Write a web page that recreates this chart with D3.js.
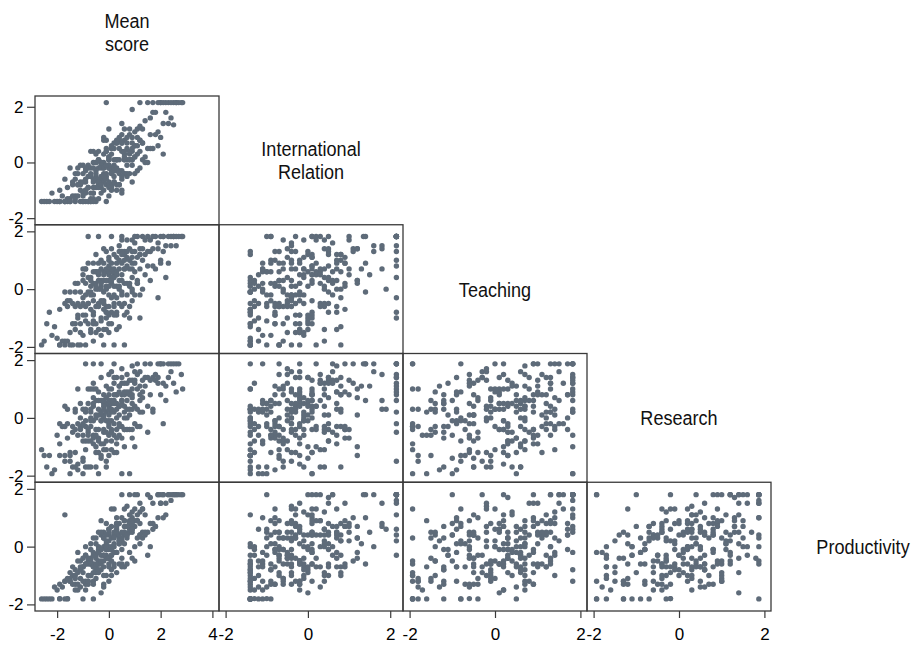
<!DOCTYPE html>
<html>
<head>
<meta charset="utf-8">
<script src="https://cdn.jsdelivr.net/npm/d3@7"></script>
<style>
  body { margin: 0; background: #fff; }
  text { font-family: "Liberation Sans", Arial, Helvetica, sans-serif; }
</style>
</head>
<body>
<svg id="chart" width="917" height="645"></svg>
<script>
// Variable names, diagonal labels and axis ticks
const variables = ["Mean score", "International Relation", "Teaching", "Research", "Productivity"];
const labelLines = [["Mean", "score"], ["International", "Relation"], ["Teaching"], ["Research"], ["Productivity"]];
const tickValues = [[-2, 0, 2, 4], [-2, 0, 2], [-2, 0, 2], [-2, 0, 2], [-2, 0, 2]];

// Standardised scores, one entry per institution (same order in every array)
const meanScore = [
  -0.5, 0.3, 1.2, -1.3, 0.0, -0.9, 0.7, 2.1, -0.2, -1.7,
  0.9, -0.7, 0.1, -1.1, 1.6, -0.3, 0.5, -2.2, 0.4, -0.1,
  1.0, -1.5, 0.2, -0.6, 2.5, 0.6, -0.8, 1.4, -0.4, 0.0,
  -1.9, 0.8, -0.2, 0.3, -1.0, 1.9, -0.5, 0.5, -1.2, 0.1,
  1.1, -0.9, 0.4, -0.3, 2.8, -0.1, 0.7, -1.4, 0.2, -0.6,
  1.3, -0.4, 0.0, -2.6, 0.9, -0.7, 0.6, -0.2, 1.7, -1.0,
  0.3, -0.5, 0.8, -1.6, 0.1, 1.2, -0.3, 0.4, -0.8, 2.3,
  -0.1, 0.5, -1.2, 0.0, 1.0, -0.6, 0.2, -2.0, 0.7, -0.4,
  1.5, -0.9, 0.3, -0.2, 0.9, -1.3, 0.1, -0.7, 0.6, 2.0,
  -0.5, 0.4, -1.1, 1.1, -0.1, 0.0, -1.8, 0.8, -0.3, 0.5,
  -0.8, 1.4, 0.2, -0.6, 2.6, -0.4, 0.0, -1.5, 0.7, -0.2,
  1.2, -1.0, 0.3, -0.5, 0.9, -2.4, 0.1, -0.7, 1.8, -0.1,
  0.6, -1.3, 0.4, -0.3, 1.0, -0.9, 0.0, 2.2, -0.6, 0.2,
  -1.7, 0.8, -0.4, 0.5, -1.1, 1.3, -0.2, 0.1, -0.8, 2.7,
  0.3, -0.5, 1.6, -1.4, 0.0, 0.6, -0.7, 1.1, -0.1, -2.1,
  0.4, -0.3, 0.9, -1.0, 0.1, 1.9, -0.6, 0.2, -1.2, 0.7,
  -0.2, 1.5, -0.9, 0.0, 0.5, -1.6, 1.2, -0.4, 0.3, -0.7,
  2.4, -0.1, 0.8, -1.3, 0.1, -0.5, 1.0, -0.3, 0.6, -1.9,
  0.2, -0.8, 1.3, -0.2, 0.4, -1.1, 0.0, 2.85, -0.6, 0.9,
  -0.4, 0.7, -1.5, 0.3, -0.9, 1.7, -0.1, 0.5, -0.7, -2.5,
  1.1, -0.3, 0.2, -1.0, 0.6, -0.5, 1.4, 0.0, -1.2, 0.4,
  -0.6, 0.8, -0.2, 2.0, -0.8, 0.1, -1.4, 0.5, 1.2, -0.4,
  0.3, -1.7, 0.9, -0.1, 1.6, -0.9, 0.0, 0.6, -1.3, 2.3,
  -0.5, 0.4, -0.2, 1.0, -1.1, 0.2, -0.7, 0.7, -2.3, 0.1,
  -0.3, 1.8, -1.0, 0.5, -0.6, 0.9, -0.1, 1.3, -1.6, 0.3,
  2.0, 1.7, 2.2, 1.5, 2.4, 1.9, -0.1, 2.6, 1.2, 2.1,
  0.9, 2.5, 2.1, -1.2, -0.4, 0.2, -0.8, -1.0, 0.6, -0.3,
  1.0, -1.5, 0.1, -0.6, 0.8, -1.9, 1.1, -0.2, 0.5, -0.9, -1.7
];
const internationalRelation = [
  0.0, -0.8, 0.8, -1.4, 1.2, -0.6, -0.5, 1.4, -1.0, -0.6,
  0.1, -1.4, 0.5, -0.7, 1.6, 0.0, -1.1, -1.1, 0.8, -0.8,
  -0.4, -1.3, -0.1, 0.4, 2.15, 1.2, -1.4, 0.0, 0.1, -0.7,
  -1.4, 1.2, 0.0, -0.3, -1.4, 1.1, -1.4, 0.4, -0.2, -0.4,
  1.2, -1.0, -0.8, 0.0, 2.15, 0.5, 0.1, -0.7, -0.3, -0.9,
  0.1, -0.8, 0.2, -1.4, 0.7, -0.2, -0.4, -0.2, 0.5, -0.4,
  0.1, -0.5, 0.3, -0.9, -0.8, 0.8, -0.7, 0.1, -0.2, 2.15,
  -1.4, 1.0, -0.8, 0.1, 1.1, -1.1, 0.1, -1.4, -0.4, -0.2,
  0.0, -1.4, 0.8, -0.4, 0.4, -0.4, -0.2, -1.1, -0.4, 0.9,
  0.0, -0.3, -1.4, 0.3, 0.8, -0.9, -1.2, 1.0, 0.0, -0.6,
  -0.5, 1.5, -0.3, -0.7, 2.15, -1.3, -0.1, -0.2, 0.5, -0.6,
  0.4, -0.1, 0.1, -0.6, -0.1, -1.4, -0.3, 0.4, 1.0, -0.4,
  0.8, -1.2, 0.8, -0.5, 0.6, -0.7, -1.2, 1.8, 0.0, 0.5,
  -1.4, -0.4, -0.6, 1.4, -1.0, 0.7, -0.7, 0.5, -1.4, 2.15,
  0.1, -0.9, 0.5, -1.2, 0.1, 0.3, -1.4, -0.3, -0.6, -1.4,
  -0.8, -0.1, 0.9, -1.4, -0.4, 0.6, -1.1, 0.7, -1.2, 0.9,
  0.9, 0.5, -1.1, -0.2, 0.7, -1.4, -0.2, 0.4, -1.0, -0.5,
  1.6, 0.4, 0.4, -0.6, -1.0, -0.3, 0.2, -0.2, 0.1, -1.0,
  -0.5, -0.1, 1.2, -0.2, 0.5, -0.8, -0.2, 2.15, -0.2, -0.7,
  -0.7, 0.7, -1.4, 0.7, -0.3, 1.8, -0.5, -0.3, -1.3, -1.4,
  0.9, -0.9, -0.7, -1.1, 0.4, 0.3, 0.2, 0.2, -0.8, -0.4,
  -1.3, 0.1, 0.3, 2.15, -0.9, 0.3, -0.8, -0.5, 1.3, -0.9,
  0.7, -1.4, 0.1, 0.4, 1.0, -1.0, -0.1, 0.1, -1.3, 1.4,
  -0.4, 0.9, -0.5, 0.6, -0.1, -0.2, -0.4, -0.1, -1.4, 0.6,
  -0.8, 1.8, -0.7, 0.7, -0.6, 0.5, -0.1, 0.7, -1.3, -0.2,
  2.15, 2.15, 2.15, 2.15, 2.15, 2.15, 2.15, 2.15, 2.15, 2.15,
  1.9, 1.35, 0.3, -0.4, 0.1, -0.7, -0.9, -1.2, 0.2, -1.1,
  0.2, -1.4, -0.9, -1.4, 0.1, -1.4, 0.6, 0.8, -1.0, -0.2, -1.4
];
const teaching = [
  0.6, -0.9, 1.2, -1.2, 0.3, 0.7, 1.1, 1.82, -0.5, -1.8,
  -0.4, 0.1, 1.4, -1.93, 1.3, -1.0, 0.9, -1.6, -1.3, 0.1,
  1.6, -0.4, 0.5, -1.8, 1.82, 0.2, 0.4, 1.2, 0.5, -0.6,
  -0.7, 1.4, -1.4, 0.1, -0.9, 1.4, 1.2, -0.6, 0.2, 0.9,
  0.3, -1.1, 1.3, 0.1, 1.82, -0.8, 0.8, -1.93, -0.2, -0.2,
  1.82, -0.6, 0.5, -1.93, 0.7, -1.4, 1.3, 0.9, 0.8, -0.3,
  0.5, -0.6, -0.6, -0.4, -0.8, 1.2, 0.3, 0.3, -1.2, 1.82,
  1.3, 0.5, -0.9, -1.2, 1.3, 0.6, 0.7, -1.7, -0.2, -1.4,
  1.3, 0.2, -0.3, -0.4, 1.7, -0.6, 0.2, -0.1, 0.7, 0.9,
  -1.2, 0.7, -0.1, 0.2, 0.6, 1.0, -1.8, 0.7, -1.1, 1.7,
  -0.5, 0.5, -0.5, 0.9, 1.5, 0.0, -0.2, -1.5, 1.3, 0.3,
  1.4, -1.6, 1.1, 0.0, 0.4, -1.2, -1.2, 0.4, 1.82, 0.3,
  1.0, -1.4, 0.0, -0.4, -0.2, -0.6, 0.1, 1.5, -0.9, 1.2,
  -0.1, 1.0, 0.9, -0.1, -0.6, 1.0, 0.6, 0.4, -0.1, 1.82,
  -0.8, 0.2, 0.3, -0.5, 0.8, -0.5, -0.7, 1.82, -0.6, -1.3,
  1.0, 0.7, 0.9, 0.3, -0.3, 1.6, 0.2, -0.6, -1.0, 0.2,
  -0.7, 1.82, 0.7, -0.9, 0.3, -1.8, -0.2, -0.5, 0.6, -1.5,
  1.5, 0.0, 0.1, -0.1, 0.6, -1.5, 0.9, 1.0, 1.2, -1.93,
  0.4, -0.5, 1.4, -0.1, -0.5, -1.2, -1.5, 1.82, -0.4, 1.3,
  0.3, -0.8, -0.1, 0.9, -0.9, 1.4, -1.0, 1.3, 0.3, -1.8,
  1.1, -1.6, 0.1, 0.7, 0.7, 0.6, 1.7, 0.6, -0.5, 1.5,
  -1.1, 0.2, 0.5, 1.82, 0.9, 0.7, -1.2, -0.2, 0.7, 0.6,
  -1.4, -1.93, 1.1, -1.4, 1.7, -0.2, 1.1, -0.9, 0.2, 0.9,
  0.1, 0.1, 1.4, 0.6, -1.5, -0.9, -0.2, 1.7, -0.8, 0.3,
  0.2, 0.7, -0.5, 1.2, -1.2, -0.1, 0.7, 0.0, -0.6, 0.5,
  1.0, 1.82, 0.4, 0.8, 1.82, -0.3, -0.8, 1.82, -1.0, 1.3,
  0.0, 1.82, 1.82, -1.93, 1.82, -1.93, 1.82, 0.5, -1.93, 0.0,
  1.82, -1.93, 1.82, -0.8, -1.0, -1.93, 0.2, -1.93, 1.82, -1.93, -0.5
];
const research = [
  -1.0, 0.8, 0.2, 0.3, -1.3, -0.8, 1.5, 1.87, 0.1, -1.5,
  1.3, 1.0, -0.4, -0.3, 1.87, -1.4, 0.6, -1.93, 1.1, 0.5,
  -0.2, -1.2, 0.2, 1.0, 1.2, -1.0, -0.5, 1.4, -1.2, 1.5,
  -1.3, 0.1, 0.5, -0.4, 0.3, 1.87, 0.0, 1.2, -1.6, 0.2,
  1.0, -0.3, -0.6, 1.4, 1.5, -0.8, 0.6, -0.3, -1.2, 0.4,
  0.2, -0.7, 0.4, -1.1, 1.8, -0.3, 0.2, 0.8, 1.4, -1.5,
  0.8, 0.1, 1.3, -0.7, -0.1, 0.8, -1.3, 0.4, 0.5, 1.4,
  0.2, -0.7, -1.8, 0.8, 1.2, -0.9, 0.6, -0.6, 0.3, 0.9,
  0.4, -0.1, 1.4, -0.5, -0.4, -1.2, 1.0, 0.2, 0.0, 1.87,
  0.6, 0.4, 0.0, 1.5, -1.7, -0.6, -0.3, -0.4, 0.1, 0.8,
  -0.8, 1.1, 0.8, -0.6, 1.87, 0.3, -0.1, -1.3, 1.2, -0.9,
  -0.3, -0.6, -1.2, 1.0, 0.5, -1.7, 0.5, -1.7, 1.3, 0.5,
  0.8, 0.2, -0.3, 0.6, 1.3, -1.1, 0.3, 0.6, -0.1, -0.2,
  -1.3, 0.9, -0.4, 0.6, 0.5, 1.3, 0.0, -0.8, 1.0, 1.87,
  0.0, -1.2, 1.3, -1.7, 1.0, 1.2, -0.1, 0.3, 1.1, -1.8,
  1.1, -0.1, -0.7, -0.2, 1.6, 1.2, 0.5, -0.6, -0.6, -0.4,
  -0.4, 1.4, 0.3, -0.2, -0.3, 0.3, 1.6, 0.1, 0.5, 0.3,
  1.6, -1.1, 0.8, -1.7, 0.3, -0.6, 0.4, -0.9, -0.4, -0.2,
  1.2, -1.7, 0.7, 0.4, 0.1, -0.3, 0.6, 1.0, 0.7, 1.0,
  -0.8, 0.9, -1.5, -0.9, 0.2, 0.3, -0.1, 1.4, -0.8, -1.3,
  -0.3, 0.2, 0.5, -0.8, 0.4, -1.7, 1.87, -0.3, -0.2, -0.2,
  1.2, 0.3, 0.6, 0.8, -0.4, -1.1, -0.5, 1.7, 1.1, 0.6,
  0.3, -0.3, 0.8, -0.5, 0.8, -1.7, 0.1, 0.9, -0.4, 1.87,
  -0.4, 0.9, -1.1, 1.6, -0.4, 1.4, 0.0, 0.0, -1.3, -0.5,
  -0.1, 1.5, -1.4, 0.5, -0.7, 0.7, 0.7, 0.9, -0.2, -0.7,
  1.87, 0.2, 1.1, -0.5, 1.87, 1.4, -1.5, 0.9, 0.6, -0.2,
  0.3, 1.87, 1.2, 1.0, -1.93, 1.87, -0.6, -1.93, -0.4, 1.87,
  -1.0, -1.93, 0.6, 1.87, -1.93, -0.9, 1.87, 0.3, -1.93, 1.87, 0.4
];
const productivity = [
  -0.9, 1.0, 0.8, -0.8, -0.4, -1.3, 0.3, 1.0, 0.5, -1.2,
  1.0, -0.6, -1.0, -0.5, 0.0, 0.4, 1.0, -1.81, 0.2, -0.1,
  1.3, -1.1, 0.0, -1.2, 1.8, 0.7, -0.5, 1.1, -0.6, 0.0,
  -1.3, -0.2, 0.0, 0.8, -0.7, 1.0, -0.3, 0.2, -1.5, -0.1,
  0.3, -0.3, 0.8, -1.6, 1.8, 0.1, 0.4, -1.0, 1.3, -0.6,
  1.3, 0.5, -0.7, -1.81, -0.4, -0.5, 0.5, -1.3, 1.5, -0.7,
  -0.2, -0.4, 0.9, -1.81, 1.3, 0.4, 0.5, 0.1, -1.2, 1.8,
  0.0, 0.2, -0.2, -0.1, -0.5, -0.2, -0.6, -1.5, 1.4, -0.5,
  1.8, -0.6, -0.9, 0.3, 0.6, -1.3, -0.5, -0.6, 0.9, 1.5,
  -0.8, 0.3, -0.8, 0.9, -0.3, 0.4, -1.4, 0.5, -0.1, -0.1,
  -0.6, 0.5, 0.4, -0.9, 1.8, 0.0, 0.2, -1.2, -0.6, 0.3,
  1.2, -0.7, 0.4, -1.1, 1.2, -1.81, 0.7, -1.0, 0.7, -0.4,
  -0.7, -1.0, 0.2, -0.3, 0.7, -0.3, 0.6, 1.5, -0.7, -0.7,
  -1.2, 0.8, -0.6, -0.6, -1.4, 0.5, -0.3, -0.1, -1.0, 1.8,
  0.8, 0.1, 1.7, -0.7, -1.2, 0.4, 0.1, 1.1, -0.1, -1.4,
  0.1, -0.8, 0.7, -0.9, -0.3, 1.8, -0.7, 0.4, -0.5, 0.7,
  -0.7, 0.5, -1.5, 0.6, 0.3, -1.1, 1.5, -0.9, 0.6, -0.4,
  1.8, 0.0, 0.6, -1.1, 0.3, 0.3, 0.9, -0.6, 0.5, -1.8,
  -0.2, -0.4, 0.3, -0.5, 0.4, -0.7, 0.5, 1.8, -1.3, 0.9,
  -0.1, 0.7, -0.9, -0.2, -1.2, 0.8, 0.8, -0.4, -0.1, -1.81,
  0.9, 0.9, 0.5, -1.2, 0.1, -0.7, 0.4, -0.4, -1.3, 0.2,
  -0.3, 1.1, -1.4, 1.8, -1.3, 0.0, -1.3, 0.5, 0.1, -0.8,
  0.5, -1.81, 0.5, 0.4, 0.8, 0.0, -0.6, 0.9, -1.5, 1.8,
  -0.6, -0.6, -0.3, 0.0, -1.1, 0.1, -1.0, 0.4, -1.81, -0.3,
  -0.1, 0.7, -0.4, -0.7, 0.3, 0.8, -1.0, 1.3, -1.8, 0.7,
  1.5, 0.6, 1.1, -0.3, 1.6, 1.8, 0.2, 1.8, 0.4, 1.8,
  0.6, 1.8, 1.8, -0.9, -0.2, 0.3, -1.2, -1.81, 1.3, -0.5,
  1.8, -1.2, -0.8, -1.81, 1.8, -1.81, 1.8, -1.0, 1.8, -0.6, 1.1
];

const series = [meanScore, internationalRelation, teaching, research, productivity];
const n = variables.length;

// Layout of the half matrix
const gridLeft = 35, cellW = 184;
const gridBottom = 611, cellH = 128.75;
const pad = 6.6;              // inner margin of each plot region
const markerColor = "#5e6b79";
const frameColor = "#3a3a3a";

const colX = j => gridLeft + j * cellW;
const rowY = i => gridBottom - (n - i) * cellH;

// One scale per variable for each direction; domain covers data and ticks
const domains = series.map((vals, v) => {
  const ext = d3.extent(vals);
  const t = tickValues[v];
  return [Math.min(ext[0], d3.min(t)), Math.max(ext[1], d3.max(t))];
});
const xScales = domains.map((dom, v) =>
  d3.scaleLinear().domain(dom).range([colX(v) + pad, colX(v) + cellW - pad]));
const yScales = domains.map((dom, v) =>
  d3.scaleLinear().domain(dom).range([rowY(v) + cellH - pad, rowY(v) + pad]));

const svg = d3.select("#chart");
svg.append("rect").attr("width", 917).attr("height", 645).attr("fill", "#fff");

// Scatter cells below the diagonal
for (let i = 1; i < n; i++) {
  for (let j = 0; j < i; j++) {
    const g = svg.append("g");
    const pts = d3.range(series[0].length).map(k => [series[j][k], series[i][k]]);
    g.selectAll("circle").data(pts).join("circle")
      .attr("cx", d => xScales[j](d[0]))
      .attr("cy", d => yScales[i](d[1]))
      .attr("r", 2.7)
      .attr("fill", markerColor);
    g.append("rect")
      .attr("x", colX(j)).attr("y", rowY(i))
      .attr("width", cellW).attr("height", cellH)
      .attr("fill", "none").attr("stroke", frameColor).attr("stroke-width", 1.3);
  }
}

// Left axes (one per row) and bottom axes (one per column)
const tickFmt = d => String(d);
function styleAxis(g) {
  g.select(".domain").remove();
  g.selectAll(".tick line").attr("stroke", frameColor).attr("stroke-width", 1.2);
  g.selectAll(".tick text").attr("fill", "#000").attr("font-size", 17)
    .attr("font-family", "'Liberation Sans', Arial, sans-serif");
}
for (let i = 1; i < n; i++) {
  svg.append("g").attr("transform", `translate(${gridLeft},0)`)
    .call(d3.axisLeft(yScales[i]).tickValues(tickValues[i]).tickSize(8).tickPadding(3.5).tickFormat(tickFmt))
    .call(styleAxis);
}
for (let j = 0; j < n - 1; j++) {
  svg.append("g").attr("transform", `translate(0,${gridBottom})`)
    .call(d3.axisBottom(xScales[j]).tickValues(tickValues[j]).tickSize(7).tickPadding(10).tickFormat(tickFmt))
    .call(styleAxis);
}

// Variable names on the diagonal
const labelSize = 21, lineGap = 23;
labelLines.forEach((lines, v) => {
  const cx = colX(v) + cellW / 2;
  const cy = rowY(v) + cellH / 2;
  const base = cy + labelSize * 0.36 - (lines.length - 1) * lineGap / 2;
  lines.forEach((line, k) => {
    svg.append("text")
      .attr("transform", `translate(${cx},${base + k * lineGap}) scale(0.86,1)`)
      .attr("text-anchor", "middle")
      .attr("font-size", labelSize)
      .attr("fill", "#111")
      .text(line);
  });
});
</script>
</body>
</html>
